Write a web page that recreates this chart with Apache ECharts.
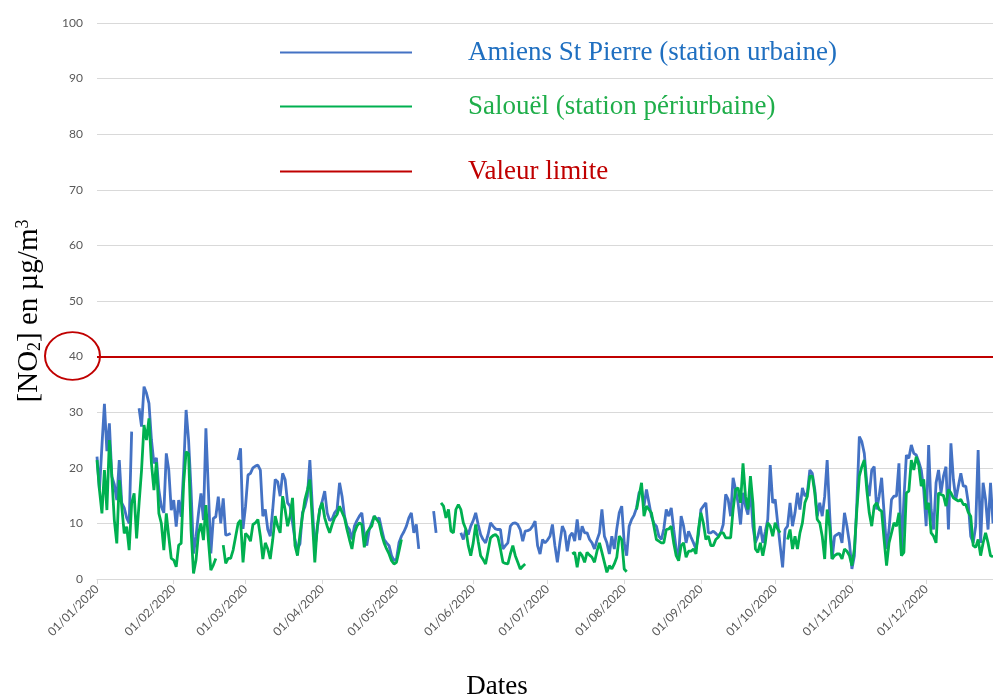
<!DOCTYPE html>
<html>
<head>
<meta charset="utf-8">
<title>NO2 Amiens 2020</title>
<script src="https://cdn.jsdelivr.net/npm/echarts@6/dist/echarts.min.js"></script>
<style>
  html, body { margin: 0; padding: 0; background: #fff; }
  #chart { width: 993px; height: 700px; }
</style>
</head>
<body>
<div id="chart"></div>
<script>
const amiens = [
  22, 16, 24, 31.5, 23, 28, 18.4, 17, 14.2, 21.4, 13.7, 12.8, 11, 10, 26.5, null, null, 30.7, 27.4, 34.6, 33.4, 31.6, 25, 20.8, 21.8, 16, 13, 11.9, 22.6, 19.6, 12.4,
  14.2, 9.4, 14.2, 11.2, 19.6, 30.4, 25, 16, 4.6, 7.6, 11.8, 15.4, 10.6, 27.1, 16, 4.6, 10.9, 11.2, 14.8, 10, 14.5, 7.9, 8, 8.2, null, null, 21.4, 23.5, 9,
  13, 18.7, 19, 20, 20.3, 20.5, 19.6, 11.3, 12.5, 8.9, 7.7, 12.5, 17.9, 17.5, 14.9, 19, 17.9, 13.7, 13.1, 10.1, 7, 5.4, 6.3, 11.9, 13, 14.9, 21.4, 13, 5.4, 9, 12.5,
  14, 15.8, 11.9, 10.5, 10.8, 11.9, 12.5, 17.3, 14.9, 11.3, 9.5, 8.9, 7.1, 9.5, 10.5, 11.3, 11.9, 8, 6, 8.9, 10.1, 11.3, 10.7, 11, 9, 7.1, 6.5, 6, 4.2, 3.3,
  3.6, 6.5, 7.7, 8.5, 9.5, 11, 11.9, 8.3, 9.8, 5.4, null, null, null, null, null, 12.2, 8.3, null, null, null, null, null, null, null, null, null, 8.3, 7.1, 8.9, 8, 9.5,
  10.5, 11.9, 9.8, 8, 7.1, 6.5, 8, 10.1, 9.5, 9, 8.9, 8.9, 5.4, 6, 6.5, 9.5, 10, 10.1, 9.8, 8.9, 6.8, 8.6, 8.7, 8.9, 9.5, 10.4, 6, 4.5, 7.1, 6.5,
  7, 7.7, 9.8, 6, 3, 6.5, 9.5, 8.5, 5, 7.7, 8.3, 6.8, 10.7, 7, 9.5, 8.3, 8.3, 7.1, 6.5, 5.4, 7, 8.3, 12.5, 7.7, 6.5, 4.5, 7.7, 5.4, 9, 11.9, 13.1,
  6.5, 4.2, 9.5, 10.7, 11.5, 12.8, 15.5, 16.1, 13.1, 16.1, 13.7, 11.3, 10, 9.5, 7.7, 7.1, 9, 12.5, 11.3, 12.8, 8.9, 5.4, 4.2, 11.3, 9.5, 6.5, 8.6, 7.5, 6.5, 5.4, 8,
  12.5, 13.1, 13.7, 8.3, 8.3, 8.6, 8.2, 7.7, 8.3, 9.8, 15.2, 14.3, 11.3, 18.2, 16.1, 13.7, 9.8, 15.5, 13.1, 11.6, 16.1, 9.5, 6.5, 7.7, 9.5, 6.5, 8.5, 10.7, 20.5, 13.7,
  14.3, 10.1, 6, 2.1, 8.9, 9.5, 13.7, 9.5, 11.9, 15.5, 12.5, 16.4, 14.9, 15.5, 19.6, 19, 16.1, 11.3, 13.7, 11.3, 14.9, 21.4, 11.9, 3.6, 7.7, 8, 8.3, 6.5, 11.9, 9.5, 6.5,
  1.8, 4.2, 13.7, 25.6, 24.7, 22.6, 17.3, 14.9, 19.6, 20.2, 12.5, 14.9, 18.2, 11.9, 5.4, 8.9, 14.3, 14.9, 14.9, 20.8, 4.2, 14.3, 22.3, 21.7, 24.1, 22.6, 22.3, 21.1, 19.6, 16.1,
  9.5, 24.1, 12.5, 8.9, 17.3, 19.6, 15.5, 18.5, 20.2, 8.9, 24.4, 17.9, 14.3, 16.7, 19, 16.7, 16.7, 13.7, 7.7, 6.5, 9.5, 23.2, 6.5, 17.3, 14.3, 8.9, 17.3, 10
]

const salouel = [
  21.4, 16, 11.8, 19.6, 12.4, 25, 18.4, 10.6, 6.4, 17.8, 13, 8.2, 9.4, 5.2, 13.6, 15.4, 7.3, 13.6, 19.6, 27.7, 25, 28.9, 20.8, 16, 21, 11.8, 10, 5.2, 11.8, 7.6, 3.7,
  3.4, 2.2, 6.1, 6.4, 17.2, 22.9, 22.5, 8.8, 1, 3.4, 8.2, 10, 7, 13.3, 7, 1.6, 2.5, 3.7, null, null, 6.1, 2.8, 3.7, 3.7, 5.2, 7.6, 10, 10.6, 3,
  8.2, 7.7, 6.8, 9.8, 10.1, 10.7, 7.7, 3.6, 6.5, 5.4, 3.6, 7.1, 11.3, 9.5, 8.3, 14.9, 12.5, 9.5, 11.3, 14.6, 6, 4.2, 8, 11.3, 14.3, 16, 17.9, 10.7, 3, 9.5, 12.5,
  13.7, 11, 9.5, 8.3, 9.8, 11, 11.6, 13.1, 12, 11, 8.9, 7.1, 5.4, 8.3, 9.5, 10.1, 9.8, 5.7, 8.3, 9, 9.5, 11.3, 10.7, 10.1, 8, 6.5, 5.4, 4.5, 3.3, 2.7,
  3, 5, 7.1, null, null, null, null, null, null, null, null, null, null, null, null, null, null, null, 13.7, 13.1, 11, 12.5, 8.6, 8.3, 12.5, 13.4, 12.5, 10.1, 9, 6, 4.2,
  6.5, 9.8, 6.8, 4.2, 3.5, 2.7, 5, 7.4, 7.8, 8, 7.5, 5.4, 3, 2.8, 2.7, 4.5, 6, 4.2, 3, 1.8, 2.3, 2.7, null, null, null, null, null, null, null, null,
  null, null, null, null, null, null, null, null, null, null, 4.5, 4.8, 2.1, 4.8, 4.2, 3, 4.8, 4.3, 3.9, 3, 5, 6.5, 4.8, 3, 1.2, 2.4, 1.8, 2.7, 3.9, 7.7, 7.1,
  1.8, 1.3, null, null, null, 12.5, 14.9, 17.3, 11.3, 13.1, 12.5, 11.9, 9.5, 7.1, 6.8, 6.5, 6.5, 8.9, 9, 9.5, 6.5, 4.2, 3.3, 6, 6.5, 3.9, 5, 5, 5.4, 4.5, 9,
  11.9, 10, 7.1, 7.7, 6, 6, 7.1, 7.5, 8.3, 8.3, 7.4, 7.4, 7.4, 12.5, 16.1, 16.4, 13.7, 20.8, 14.9, 12.5, 18.5, 13.7, 5.4, 4.8, 6.5, 4.2, 6.5, 10.1, 9.5, 7.7,
  10.1, 9, 8.3, null, null, 7.1, 8.9, 5.4, 7.7, 5.4, 8.3, 10.1, 13.7, 14.9, 18.5, 18.5, 15.5, 10.7, 10.1, 7.7, 3.6, 12.5, 9.5, 3.6, 4.2, 4.5, 4.5, 3.6, 5.4, 5, 4.2,
  2.4, 5.4, 12.5, 18.5, 20.2, 21.4, 16.1, 11.9, 9.5, 13.1, 13.7, 12.5, 12.2, 7.1, 2.4, 6.5, 8.3, 10.1, 9.5, 11.9, 4.2, 4.8, 15.5, 15.8, 21.4, 19.6, 22, 20.5, 16.7, 17.9,
  12.5, 13.7, 8.3, 7.7, 6.5, 15.5, 15.2, 15, 13.1, 16.1, 15.5, 14.6, 14.3, 14, 14.3, 13.4, 13.4, 12, 11.3, 6, 5.7, 7.1, 4.2, 6.5, 8.3, 6.5, 4.2, 4
]

const LIMIT = 40
const seriesNames = ['Amiens St Pierre (station urbaine)', 'Salouël (station périurbaine)', 'Valeur limite']

// one category per day, dd/mm/yyyy
const dates = amiens.map((v, i) => {
  const d = new Date(2020, 0, 1 + i)
  const dd = String(d.getDate()).padStart(2, '0')
  const mm = String(d.getMonth() + 1).padStart(2, '0')
  return `${dd}/${mm}/${d.getFullYear()}`
})

const monthStart = (idx, value) => value.startsWith('01/')

const legendBase = {
  orient: 'vertical',
  left: 280,
  padding: 0,
  icon: 'rect',
  itemWidth: 132,
  itemHeight: 2,
  selectedMode: false,
  textStyle: {
    fontFamily: 'Liberation Serif',
    fontSize: 27,
    padding: [0, 0, 0, 51]
  }
}

const chart = echarts.init(document.getElementById('chart'))

chart.setOption({
  animation: false,
  backgroundColor: '#fff',
  grid: {
    left: 97,
    right: 0,
    top: 23,
    bottom: 121,
    outerBoundsMode: 'none'
  },
  legend: [
    { ...legendBase, top: 39, data: [{ name: seriesNames[0], textStyle: { color: '#1f6fc0' } }] },
    { ...legendBase, top: 93, data: [{ name: seriesNames[1], textStyle: { color: '#1fae4a' } }] },
    { ...legendBase, top: 158, data: [{ name: seriesNames[2], textStyle: { color: '#c00000' } }] }
  ],
  xAxis: {
    type: 'category',
    data: dates,
    boundaryGap: false,
    name: 'Dates',
    nameLocation: 'middle',
    nameGap: 94,
    nameTextStyle: {
      fontFamily: 'Liberation Serif',
      fontSize: 27,
      color: '#000',
      padding: [0, 96, 0, 0]
    },
    axisLine: { lineStyle: { color: '#d9d9d9', width: 1 } },
    axisTick: { interval: monthStart, length: 5, lineStyle: { color: '#d9d9d9' } },
    axisLabel: {
      interval: monthStart,
      rotate: 45,
      margin: 8,
      color: '#595959',
      fontFamily: 'Lato',
      fontSize: 12
    },
    splitLine: { show: false }
  },
  yAxis: {
    type: 'value',
    min: 0,
    max: 100,
    interval: 10,
    name: '{t|[NO}{sub|2}{t|] en µg/m}{sup|3}',
    nameLocation: 'middle',
    nameRotate: 90,
    nameGap: 53,
    nameTextStyle: {
      color: '#000',
      padding: [0, 20, 0, 0],
      rich: {
        t: { fontFamily: 'Liberation Serif', fontSize: 29, lineHeight: 30, color: '#000' },
        sub: { fontFamily: 'Liberation Serif', fontSize: 18, lineHeight: 12, verticalAlign: 'bottom', color: '#000' },
        sup: { fontFamily: 'Liberation Serif', fontSize: 18, lineHeight: 12, verticalAlign: 'top', color: '#000' }
      }
    },
    axisLine: { show: false },
    axisTick: { show: false },
    axisLabel: { color: '#595959', fontFamily: 'Lato', fontSize: 12, margin: 14 },
    splitLine: { lineStyle: { color: '#d9d9d9', width: 1 } }
  },
  series: [
    {
      name: seriesNames[0],
      type: 'line',
      data: amiens,
      symbol: 'none',
      lineStyle: { color: '#4472c4', width: 2.8 },
      itemStyle: { color: '#4472c4' }
    },
    {
      name: seriesNames[1],
      type: 'line',
      data: salouel,
      symbol: 'none',
      lineStyle: { color: '#00b050', width: 2.8 },
      itemStyle: { color: '#00b050' }
    },
    {
      name: seriesNames[2],
      type: 'line',
      data: [],
      symbol: 'none',
      itemStyle: { color: '#c00000' },
      lineStyle: { color: '#c00000' },
      markLine: {
        silent: true,
        symbol: ['none', 'none'],
        label: { show: false },
        lineStyle: { color: '#c00000', width: 2, type: 'solid' },
        data: [{ yAxis: LIMIT }]
      }
    }
  ],
  // red ring round the 40 tick label
  graphic: [
    {
      type: 'circle',
      x: 72.5,
      y: 356,
      scaleY: 0.87,
      shape: { cx: 0, cy: 0, r: 27.5 },
      style: { fill: 'none', stroke: '#c00000', lineWidth: 2 },
      silent: true
    }
  ]
})
</script>
</body>
</html>
